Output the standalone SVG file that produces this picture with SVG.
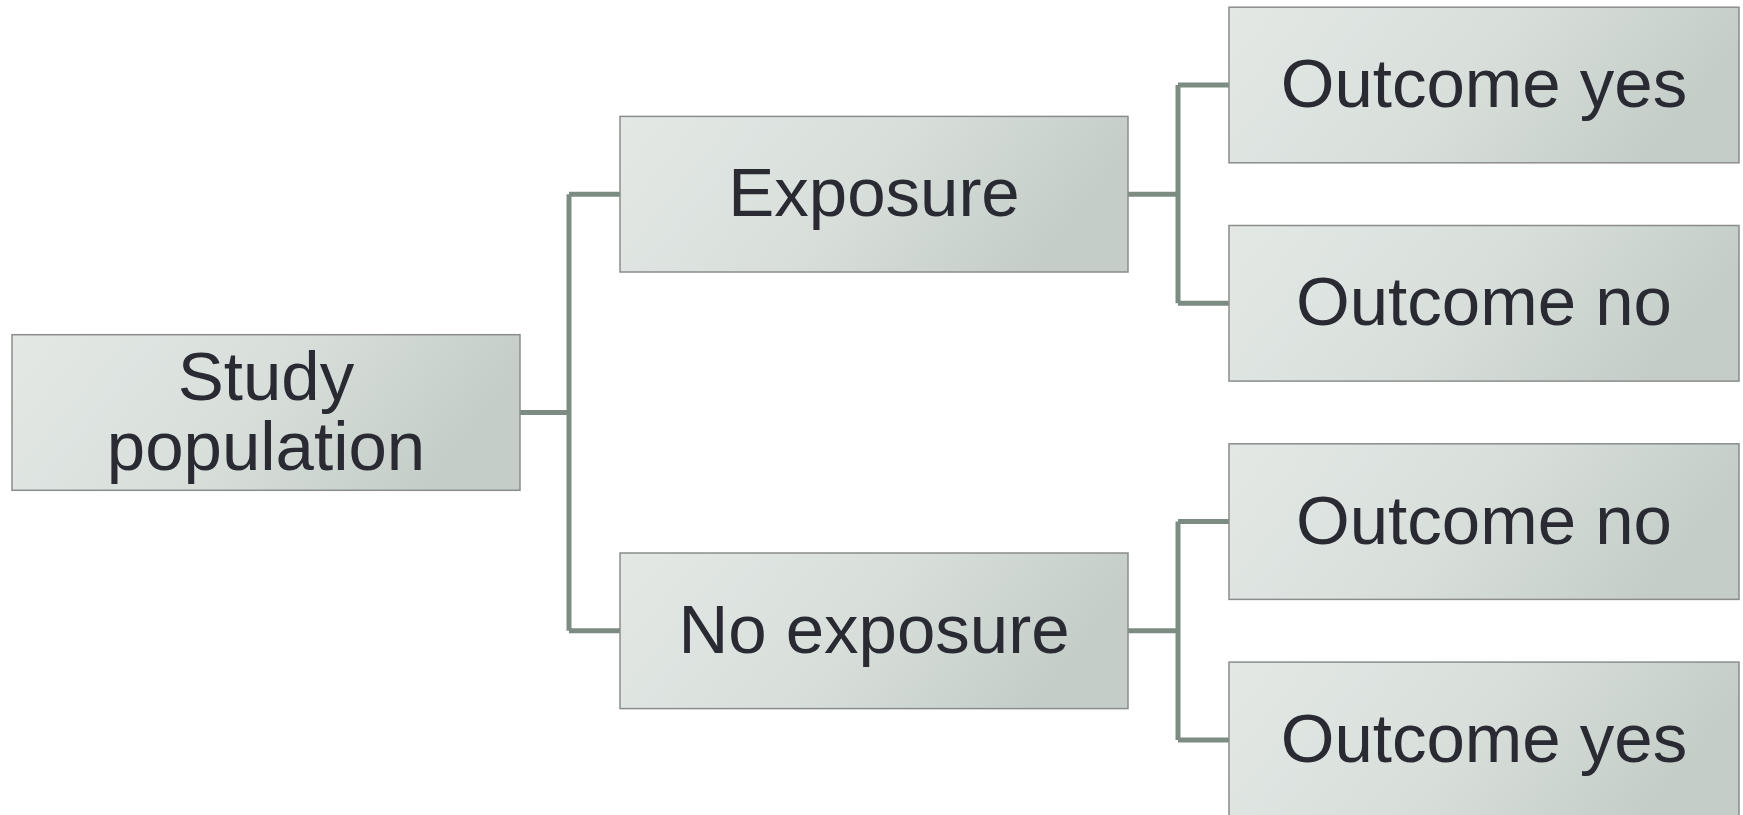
<svg xmlns="http://www.w3.org/2000/svg" width="1743" height="815" viewBox="0 0 1743 815">
<defs>
<linearGradient id="g" x1="0" y1="0" x2="1" y2="0.25">
<stop offset="0" stop-color="#e3e8e5"/>
<stop offset="0.55" stop-color="#d8dfdb"/>
<stop offset="1" stop-color="#c4cdc8"/>
</linearGradient>
</defs>
<style>
.box{fill:url(#g);stroke:#8a8d8b;stroke-width:1.5}
.t{font-family:"Liberation Sans",Arial,sans-serif;font-size:69px;fill:#2a2a33;text-anchor:middle}
.c{fill:none;stroke:#7d8c83;stroke-width:5;stroke-linejoin:round}
</style>
<g id="connectors">
<path class="c" d="M520 412.5H569M569 194.2V630.8M569 194.2H620M569 630.8H620"/>
<path class="c" d="M1128 194.2H1178M1178 85V303.3M1178 85H1229M1178 303.3H1229"/>
<path class="c" d="M1128 630.8H1178M1178 521.6V739.9M1178 521.6H1229M1178 739.9H1229"/>
</g>
<g id="study">
<rect class="box" x="12" y="334.7" width="508" height="155.6"/>
<text class="t" x="266" y="400">Study</text>
<text class="t" x="266" y="470">population</text>
</g>
<g id="exposure">
<rect class="box" x="620" y="116.4" width="508" height="155.6"/>
<text class="t" x="874" y="216">Exposure</text>
</g>
<g id="noexposure">
<rect class="box" x="620" y="553" width="508" height="155.6"/>
<text class="t" x="874" y="652.5">No exposure</text>
</g>
<g id="out1">
<rect class="box" x="1229" y="7.2" width="510" height="155.6"/>
<text class="t" x="1484" y="107">Outcome yes</text>
</g>
<g id="out2">
<rect class="box" x="1229" y="225.5" width="510" height="155.6"/>
<text class="t" x="1484" y="325.3">Outcome no</text>
</g>
<g id="out3">
<rect class="box" x="1229" y="443.8" width="510" height="155.6"/>
<text class="t" x="1484" y="543.6">Outcome no</text>
</g>
<g id="out4">
<rect class="box" x="1229" y="662.1" width="510" height="155.6"/>
<text class="t" x="1484" y="761.9">Outcome yes</text>
</g>
</svg>
